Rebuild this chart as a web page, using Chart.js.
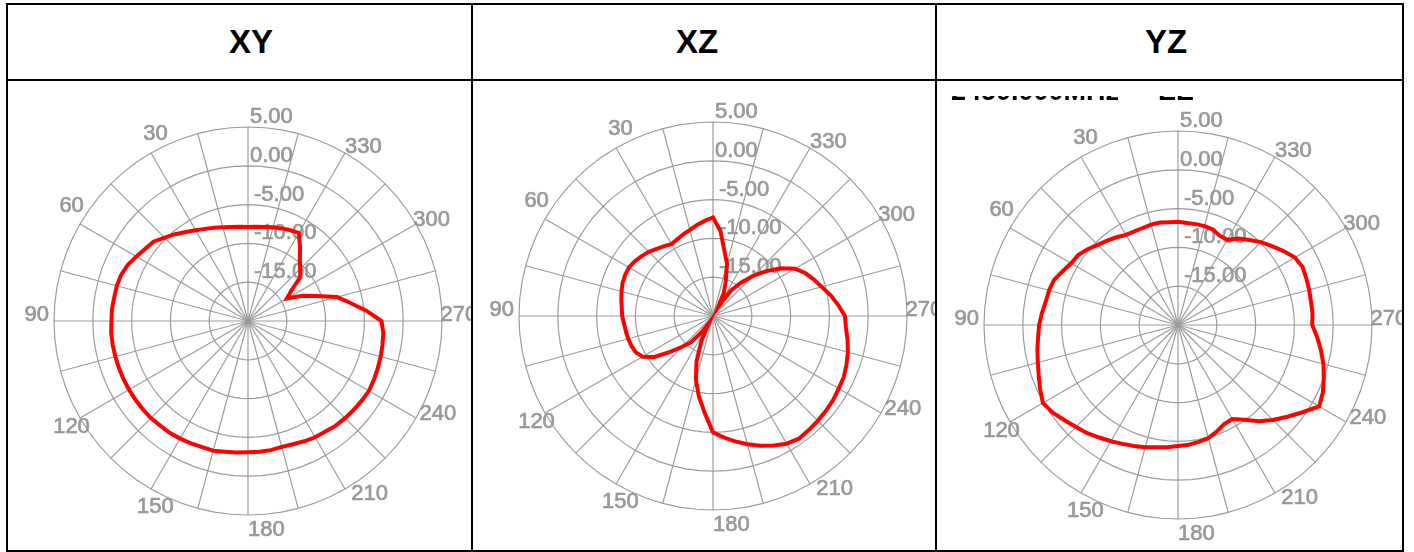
<!DOCTYPE html>
<html>
<head>
<meta charset="utf-8">
<script src="https://cdn.jsdelivr.net/npm/chart.js@4.4.1/dist/chart.umd.min.js"></script>
<style>
  body { margin: 0; background: #fff; width: 1414px; height: 552px; position: relative; overflow: hidden; }
  .line { position: absolute; background: #000; }
  .head { position: absolute; top: 5px; height: 74px; font: bold 33px/74px "Liberation Sans", Arial, sans-serif; color: #000; text-align: center; width: 200px; }
  canvas { position: absolute; top: 81px; }
  .cut { position: absolute; left: 951px; top: 96px; height: 5px; width: 300px; overflow: hidden; }
  .cut span { position: absolute; left: 0; top: -18px; font: bold 27px/27px "Liberation Sans", Arial, sans-serif; white-space: pre; color: #000; }
</style>
</head>
<body>
<div class="line" style="left:6px;top:3px;width:1398px;height:2px"></div>
<div class="line" style="left:6px;top:79px;width:1398px;height:2px"></div>
<div class="line" style="left:6px;top:550px;width:1398px;height:2px"></div>
<div class="line" style="left:6px;top:3px;width:2px;height:549px"></div>
<div class="line" style="left:471px;top:3px;width:2px;height:549px"></div>
<div class="line" style="left:935px;top:3px;width:2px;height:549px"></div>
<div class="line" style="left:1402px;top:3px;width:2px;height:549px"></div>

<div class="head" style="left:151px">XY</div>
<div class="head" style="left:597px">XZ</div>
<div class="head" style="left:1066px">YZ</div>

<canvas id="xy" width="463" height="469" style="left:8px"></canvas>
<canvas id="xz" width="462" height="469" style="left:473px"></canvas>
<canvas id="yz" width="465" height="469" style="left:937px"></canvas>

<div class="cut"><span>2450.000MHz  -  EE</span></div>

<script>
// angle in degrees, counter-clockwise from the top (0 at top, 90 on the left)
const angles = [0, 5, 10, 15, 20, 25, 30, 35, 40, 45, 50, 55, 60, 65, 70, 75, 80, 85,
  90, 95, 100, 105, 110, 115, 120, 125, 130, 135, 140, 145, 150, 155, 160, 165, 170, 175,
  180, 185, 190, 195, 200, 205, 210, 215, 220, 225, 230, 235, 240, 245, 250, 255, 260, 265,
  270, 275, 280, 285, 290, 295, 300, 305, 310, 315, 320, 325, 330, 335, 340, 345, 350, 355];

// gain in dB, one value per angle above
const xyGain = [-7.9, -7.8, -7.7, -7.5, -7.2, -6.9, -6.5, -6.0, -5.4, -4.8, -4.1, -3.8,
  -3.4, -2.9, -2.6, -2.5, -2.5, -2.4, -2.4, -2.3, -2.3, -2.3, -2.3, -2.3,
  -2.3, -2.3, -2.3, -2.3, -2.4, -2.4, -2.5, -2.6, -2.7, -2.7, -2.9, -3.0,
  -3.1, -3.1, -3.1, -3.2, -3.1, -2.9, -2.7, -2.6, -2.4, -2.3, -2.2, -2.1,
  -2.0, -2.1, -2.2, -2.3, -2.4, -2.5, -2.8, -4.7, -6.6, -8.1, -10.6, -12.3,
  -14.2, -13.2, -11.2, -10.5, -9.6, -8.3, -6.9, -7.1, -7.3, -7.5, -7.7, -7.8];

const xzGain = [-7.3, -7.7, -8.1, -8.5, -8.8, -9.1, -9.3, -9.0, -8.7, -8.3, -8.0, -7.7,
  -7.5, -7.5, -7.6, -7.8, -8.0, -8.2, -8.3, -8.5, -8.6, -8.7, -8.8, -9.0,
  -9.5, -10.8, -12.8, -14.4, -15.6, -17.5, -19.0, -16.5, -13.8, -11.5, -9.5, -7.5,
  -5.0, -4.3, -3.6, -2.9, -2.2, -1.6, -1.0, -0.7, -0.8, -0.9, -1.0, -1.1,
  -1.3, -1.4, -1.7, -2.0, -2.4, -2.8, -3.0, -3.8, -4.6, -5.5, -6.2, -6.9,
  -7.8, -9.3, -11.0, -12.7, -14.4, -16.0, -18.7, -16.7, -15.2, -13.0, -11.5, -9.0];

const yzGain = [-6.7, -6.7, -6.6, -6.6, -6.7, -6.7, -6.6, -6.2, -5.8, -5.4, -4.8, -4.3,
  -4.1, -3.6, -3.0, -2.8, -2.7, -2.4, -2.1, -1.9, -1.6, -1.3, -0.9, -0.4,
  0.1, -0.3, -0.9, -1.4, -1.8, -2.3, -2.7, -3.1, -3.4, -3.7, -4.0, -4.2,
  -4.4, -4.5, -4.7, -4.9, -5.4, -5.9, -6.0, -5.1, -3.8, -2.7, -1.6, -0.4,
  1.0, 0.6, 0.0, -0.6, -1.3, -2.0, -2.7, -2.6, -2.6, -2.5, -2.4, -2.3,
  -2.6, -3.4, -4.2, -4.9, -5.7, -6.4, -7.3, -7.3, -6.9, -6.8, -6.8, -6.8];

const ringValues = [5, 0, -5, -10, -15];
const angleLabels = [30, 60, 90, 120, 150, 180, 210, 240, 270, 300, 330];

const gridColor = '#9c9c9c';
const textColor = '#999999';
const radius = 194;
const n = angles.length;

// Chart.js runs clockwise, the plots run counter-clockwise
const cwLabels = angles.map((_, i) => angles[(n - i) % n]);
const cw = arr => arr.map((_, i) => arr[(n - i) % n]);

function drawLabel(ctx, text, x, y) {
  ctx.fillText(text, x, y);
  ctx.strokeText(text, x, y);
}

const polarText = {
  id: 'polarText',
  beforeDatasetsDraw(chart) {
    const r = chart.scales.r;
    const ctx = chart.ctx;
    ctx.save();
    ctx.font = '22px "Liberation Sans", Arial, sans-serif';
    ctx.fillStyle = textColor;
    ctx.strokeStyle = textColor;
    ctx.lineWidth = 0.7;
    ctx.textAlign = 'left';
    ctx.textBaseline = 'alphabetic';
    ringValues.forEach(v => {
      const d = r.getDistanceFromCenterForValue(v);
      drawLabel(ctx, v.toFixed(2), r.xCenter + (v < 0 ? 6 : 2), r.yCenter - d - 4);
    });
    angleLabels.forEach(a => {
      const i = (n - a / 5) % n;
      const p = r.getPointPosition(i, r.drawingArea);
      const ux = (p.x - r.xCenter) / r.drawingArea;
      const uy = (p.y - r.yCenter) / r.drawingArea;
      const q = r.getPointPosition(i, r.drawingArea * 1.072 - 15.5 * ux + 7.2 * uy);
      drawLabel(ctx, String(a), q.x, q.y);
    });
    ctx.restore();
  }
};

function makePolar(id, gain, cx, cy) {
  const canvas = document.getElementById(id);
  const left = cx - radius, top = cy - radius;
  new Chart(canvas, {
    type: 'radar',
    data: {
      labels: cwLabels,
      datasets: [{
        data: cw(gain),
        borderColor: '#ff0000',
        borderWidth: 4,
        fill: false,
        pointRadius: 0,
        tension: 0
      }]
    },
    options: {
      responsive: false,
      animation: false,
      layout: {
        padding: {
          left: left,
          top: top,
          right: canvas.width - left - 2 * radius,
          bottom: canvas.height - top - 2 * radius
        }
      },
      plugins: { legend: { display: false }, tooltip: { enabled: false } },
      scales: {
        r: {
          min: -20,
          max: 5,
          ticks: { display: false, stepSize: 5 },
          pointLabels: { display: false },
          grid: { color: gridColor, lineWidth: 1.2, circular: false },
          angleLines: {
            color: gridColor,
            lineWidth: c => (Number(c.label) % 15 === 0 ? 1.2 : 0)
          }
        }
      }
    },
    plugins: [polarText]
  });
}

makePolar('xy', xyGain, 240, 240);
makePolar('xz', xzGain, 240, 235);
makePolar('yz', yzGain, 241, 244);
</script>
</body>
</html>
